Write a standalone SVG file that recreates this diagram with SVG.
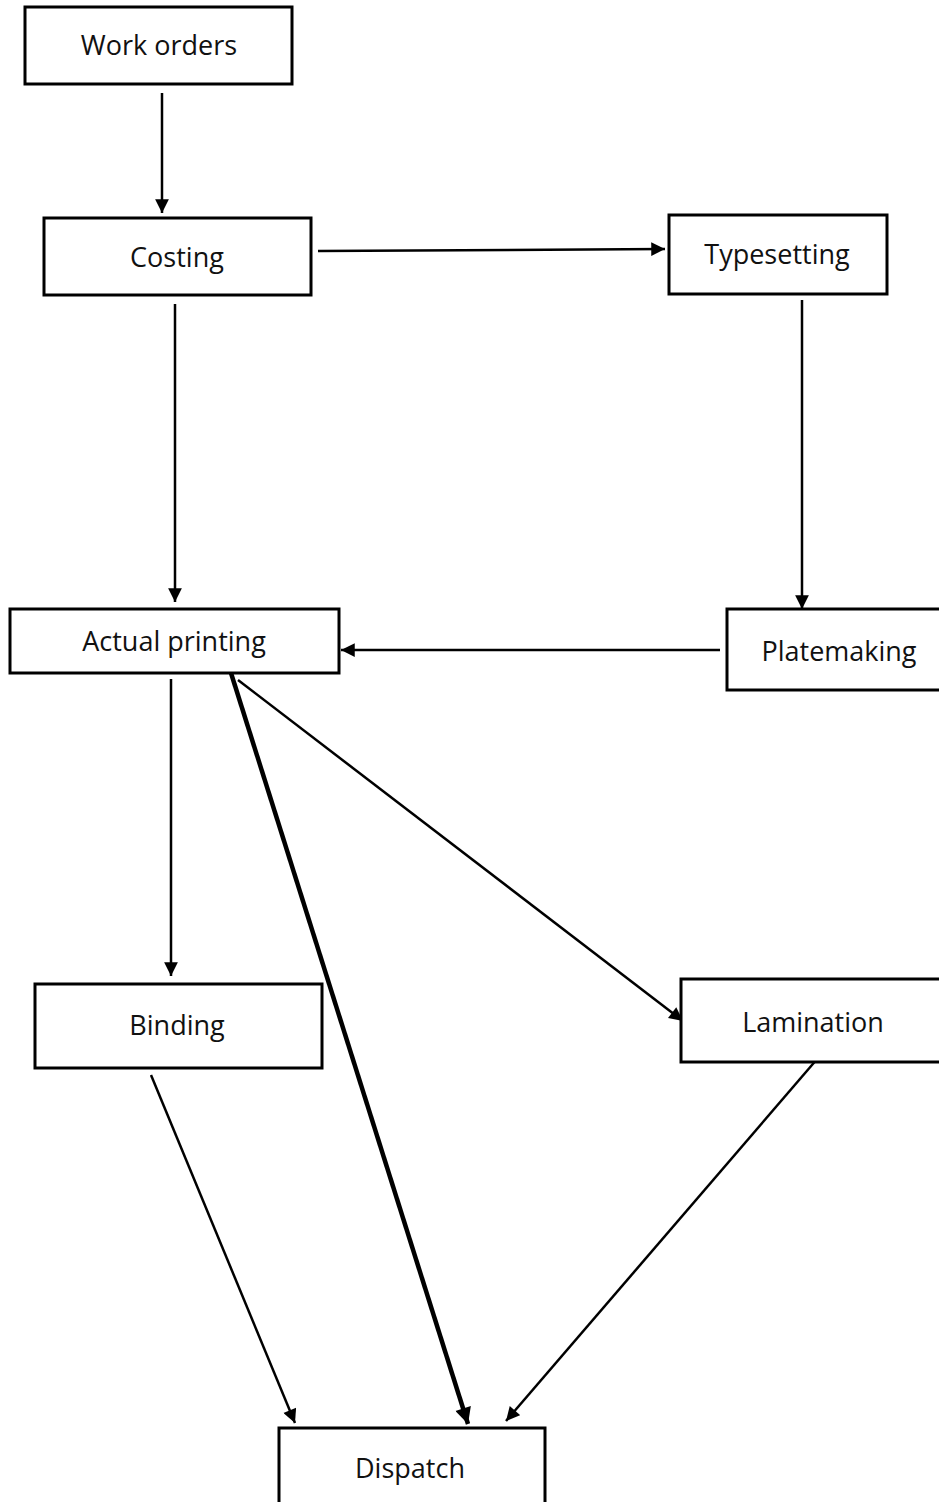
<svg xmlns="http://www.w3.org/2000/svg" width="939" height="1502" viewBox="0 0 939 1502">
<style>
.box{fill:#fff;stroke:#000;stroke-width:3}
.lbl{font-family:"Open Sans","Liberation Sans",sans-serif;font-size:27px;fill:#111;text-anchor:middle}
.c{stroke:#000;stroke-width:2.5;fill:none;marker-end:url(#ah)}
.thick{stroke-width:4.5;marker-end:url(#ahb)}
</style>
<defs>
<marker id="ah" viewBox="0 0 10 10" refX="10" refY="5" markerWidth="6" markerHeight="5.5" markerUnits="strokeWidth" orient="auto"><path d="M0,0 L10,5 L0,10 z" fill="#000"/></marker>
<marker id="ahb" viewBox="0 0 10 10" refX="10" refY="5" markerWidth="4.5" markerHeight="3.6" markerUnits="strokeWidth" orient="auto"><path d="M0,0 L10,5 L0,10 z" fill="#000"/></marker>
</defs>
<rect width="939" height="1502" fill="#fff"/>
<g id="connectors">
<line class="c" x1="162" y1="93" x2="162" y2="213"/>
<line class="c" x1="318" y1="251" x2="665" y2="249"/>
<line class="c" x1="175" y1="304" x2="175" y2="602"/>
<line class="c" x1="802" y1="300" x2="802" y2="609"/>
<line class="c" x1="720" y1="650" x2="341" y2="650"/>
<line class="c" x1="171" y1="679" x2="171" y2="976"/>
<line class="c thick" x1="231" y1="673" x2="468" y2="1424"/>
<line class="c" x1="238" y1="680" x2="683" y2="1021"/>
<line class="c" x1="151" y1="1075" x2="295" y2="1423"/>
<line class="c" x1="818" y1="1058" x2="506" y2="1421"/>
</g>
<g id="work-orders"><rect class="box" x="25" y="7" width="267" height="77"/><text class="lbl" x="159" y="55">Work orders</text></g>
<g id="costing"><rect class="box" x="44" y="218" width="267" height="77"/><text class="lbl" x="177" y="267">Costing</text></g>
<g id="typesetting"><rect class="box" x="669" y="215" width="218" height="79"/><text class="lbl" x="777" y="264">Typesetting</text></g>
<g id="actual-printing"><rect class="box" x="10" y="609" width="329" height="64"/><text class="lbl" x="174" y="651">Actual printing</text></g>
<g id="platemaking"><rect class="box" x="727" y="609" width="220" height="81"/><text class="lbl" x="839" y="661">Platemaking</text></g>
<g id="binding"><rect class="box" x="35" y="984" width="287" height="84"/><text class="lbl" x="177" y="1035">Binding</text></g>
<g id="lamination"><rect class="box" x="681" y="979" width="266" height="83"/><text class="lbl" x="813" y="1032">Lamination</text></g>
<g id="dispatch"><rect class="box" x="279" y="1428" width="266" height="84"/><text class="lbl" x="410" y="1478">Dispatch</text></g>
</svg>
